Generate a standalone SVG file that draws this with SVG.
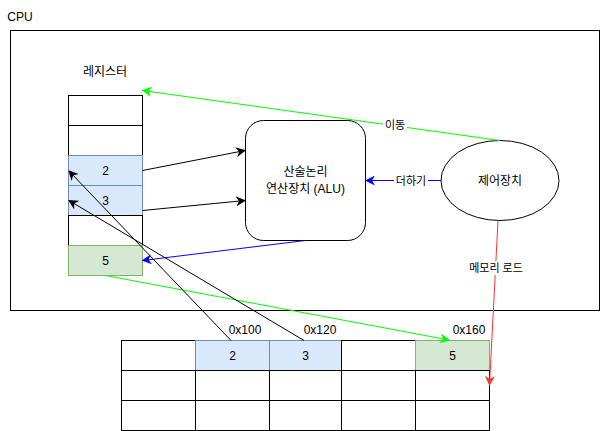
<svg xmlns="http://www.w3.org/2000/svg" width="601" height="431" viewBox="0 0 601 431">
<style>
text{font-family:"Liberation Sans","Noto Sans CJK KR",sans-serif;font-size:12px;fill:#000;text-anchor:middle;dominant-baseline:central}
.lbl{font-size:11px}
.cell{fill:#fff;stroke:#000;stroke-width:1}
.blue{fill:#dae8fc;stroke:#6c8ebf}
.green{fill:#d5e8d4;stroke:#82b366}
.e{fill:none;stroke-width:1}
</style>
<defs>
<marker id="ak" viewBox="0 0 10 10" refX="9" refY="5" markerWidth="10" markerHeight="10" markerUnits="userSpaceOnUse" orient="auto"><path d="M0,0 L10,5 L0,10 L3,5 Z" fill="#000"/></marker>
<marker id="ab" viewBox="0 0 10 10" refX="9" refY="5" markerWidth="10" markerHeight="10" markerUnits="userSpaceOnUse" orient="auto"><path d="M0,0 L10,5 L0,10 L3,5 Z" fill="#0000ff"/></marker>
<marker id="ag" viewBox="0 0 10 10" refX="9" refY="5" markerWidth="10" markerHeight="10" markerUnits="userSpaceOnUse" orient="auto"><path d="M0,0 L10,5 L0,10 L3,5 Z" fill="#00ff00"/></marker>
<marker id="ar" viewBox="0 0 10 10" refX="9" refY="5" markerWidth="10" markerHeight="10" markerUnits="userSpaceOnUse" orient="auto"><path d="M0,0 L10,5 L0,10 L3,5 Z" fill="#ff3333"/></marker>
</defs>
<rect width="601" height="431" fill="#fff"/>
<g id="cpu">
<rect x="10.5" y="30.5" width="589" height="280" fill="#fff" stroke="#000"/>
<text x="20" y="17">CPU</text>
</g>
<g id="registers">
<text x="105" y="72">레지스터</text>
<rect class="cell" x="68.5" y="95.5" width="74" height="30"/>
<rect class="cell" x="68.5" y="125.5" width="74" height="30"/>
<rect class="cell blue" x="68.5" y="155.5" width="74" height="30"/>
<text x="105.5" y="170.5">2</text>
<rect class="cell blue" x="68.5" y="185.5" width="74" height="30"/>
<text x="105.5" y="200.5">3</text>
<rect class="cell" x="68.5" y="215.5" width="74" height="30"/>
<rect class="cell green" x="68.5" y="245.5" width="74" height="30"/>
<text x="105.5" y="260.5">5</text>
</g>
<g id="alu">
<rect x="245.5" y="120.5" width="120" height="120" rx="18" ry="18" fill="#fff" stroke="#000"/>
<text x="305.5" y="172">산술논리</text>
<text x="305.5" y="189">연산장치 (ALU)</text>
</g>
<g id="control">
<ellipse cx="500" cy="180.5" rx="59" ry="40" fill="#fff" stroke="#000"/>
<text x="500" y="181">제어장치</text>
</g>
<g id="memory">
<rect class="cell" x="121.5" y="340.5" width="74" height="30"/>
<rect class="cell blue" x="195.5" y="340.5" width="74" height="30"/>
<text x="232.5" y="355.5">2</text>
<rect class="cell blue" x="269.5" y="340.5" width="72" height="30"/>
<text x="305.5" y="355.5">3</text>
<rect class="cell" x="341.5" y="340.5" width="74" height="30"/>
<rect class="cell green" x="415.5" y="340.5" width="74" height="30"/>
<text x="452.5" y="355.5">5</text>
<rect class="cell" x="121.5" y="370.5" width="74" height="30"/>
<rect class="cell" x="195.5" y="370.5" width="74" height="30"/>
<rect class="cell" x="269.5" y="370.5" width="72" height="30"/>
<rect class="cell" x="341.5" y="370.5" width="74" height="30"/>
<rect class="cell" x="415.5" y="370.5" width="74" height="30"/>
<rect class="cell" x="121.5" y="400.5" width="74" height="30"/>
<rect class="cell" x="195.5" y="400.5" width="74" height="30"/>
<rect class="cell" x="269.5" y="400.5" width="72" height="30"/>
<rect class="cell" x="341.5" y="400.5" width="74" height="30"/>
<rect class="cell" x="415.5" y="400.5" width="74" height="30"/>
<text x="245" y="330">0x100</text>
<text x="320" y="330">0x120</text>
<text x="469" y="330">0x160</text>
</g>
<g id="connectors">
<line class="e" x1="142.5" y1="170.5" x2="245" y2="150.5" stroke="#000" marker-end="url(#ak)"/>
<line class="e" x1="142.5" y1="210.5" x2="245" y2="200.5" stroke="#000" marker-end="url(#ak)"/>
<line class="e" x1="441" y1="180.5" x2="366" y2="180.5" stroke="#0000ff" marker-end="url(#ab)"/>
<line class="e" x1="305.5" y1="240.5" x2="142.5" y2="260.5" stroke="#0000ff" marker-end="url(#ab)"/>
<line class="e" x1="500" y1="140.5" x2="142.5" y2="90.5" stroke="#00ff00" marker-end="url(#ag)"/>
<line class="e" x1="105.5" y1="275.5" x2="449" y2="340" stroke="#00ff00" marker-end="url(#ag)"/>
<line class="e" x1="498" y1="220.5" x2="489.5" y2="385" stroke="#ff3333" marker-end="url(#ar)"/>
<line class="e" x1="231" y1="340.5" x2="69" y2="171" stroke="#000" marker-end="url(#ak)"/>
<line class="e" x1="304" y1="340.5" x2="69" y2="200.5" stroke="#000" marker-end="url(#ak)"/>
<rect x="383" y="118" width="24" height="14" fill="#fff"/>
<text class="lbl" x="395" y="125">이동</text>
<rect x="394" y="173" width="34" height="14" fill="#fff"/>
<text class="lbl" x="411" y="180.5">더하기</text>
<rect x="467" y="261" width="58" height="14" fill="#fff"/>
<text class="lbl" x="496" y="268">메모리 로드</text>
</g>
</svg>
